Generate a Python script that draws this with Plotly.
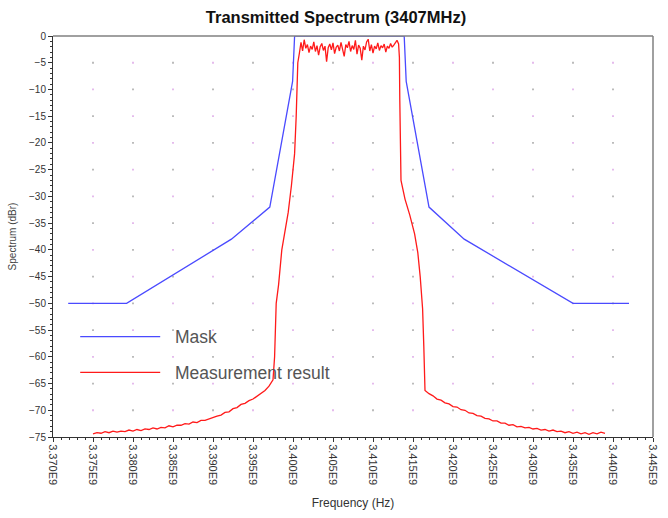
import numpy as np
import plotly.graph_objects as go

# ---- spectrum mask (frequency in MHz, level in dBr) ----
mask_freq_mhz = [3371.9, 3379.2, 3392.3, 3397.1, 3399.95, 3400.2,
                 3413.9, 3414.15, 3417.0, 3421.4, 3435.0, 3442.0]
mask_level_db = [-50, -50, -38, -32, -8.5, 0,
                 0, -8.5, -32, -38, -50, -50]

# ---- measured spectrum ----
# lower skirt, sampled every 0.5 MHz from 3375.0 MHz
skirt_lo_start_mhz = 3375.0
skirt_lo_db = [-74.4, -74.2, -74.3, -74.0, -74.2, -73.9, -74.1, -73.9, -74.0, -73.7,
               -73.9, -73.6, -73.8, -73.5, -73.6, -73.3, -73.5, -73.2, -73.3, -72.9,
               -73.1, -72.8, -72.8, -72.5, -72.6, -72.2, -72.3, -71.9, -71.9, -71.6,
               -71.4, -71.1, -70.9, -70.4, -70.3, -69.7, -69.5, -68.9, -68.7, -68.2,
               -67.9, -67.4, -66.9, -66.3, -65.5, -64.3]

# rising edge
edge_lo_freq_mhz = [3397.7, 3397.8, 3397.9, 3398.2, 3398.6, 3399.0, 3399.4,
                    3399.8, 3400.2, 3400.4, 3400.5, 3400.6, 3400.8]
edge_lo_db = [-60, -55, -50, -46.5, -40, -36.5, -33,
              -28, -22, -15, -9, -5, -3.2]

# in-band, sampled every 0.2 MHz from 3401.0 MHz
band_start_mhz = 3401.0
band_db = [-1.2, -2.8, -0.7, -2.3, -1.6, -3.1, -1.9, -2.5, -1.1, -2.9,
           -1.8, -3.6, -2.0, -1.4, -2.7, -1.9, -4.8, -2.2, -1.5, -2.6,
           -1.3, -3.3, -2.1, -1.7, -2.8, -1.2, -2.4, -3.8, -1.6, -2.2,
           -1.0, -2.9, -1.8, -2.5, -0.8, -3.4, -1.7, -2.3, -4.5, -1.9,
           -2.6, -1.1, -0.6, -2.8, -1.6, -3.2, -1.9, -2.4, -1.3, -2.7,
           -1.8, -2.2, -1.5, -3.0, -1.9, -2.3, -1.4, -2.1, -1.7, -1.2,
           -0.8, -1.5]

# falling edge
edge_hi_freq_mhz = [3413.3, 3413.35, 3413.4, 3413.5, 3414.0, 3414.6, 3415.2,
                    3415.6, 3415.9, 3416.2, 3416.35, 3416.5]
edge_hi_db = [-4, -12, -20, -27, -30.5, -33.5, -37,
              -40.5, -45, -51, -58, -66.3]

# upper skirt, sampled every 0.5 MHz from 3417.0 MHz
skirt_hi_start_mhz = 3417.0
skirt_hi_db = [-66.9, -67.3, -67.9, -68.1, -68.6, -68.8, -69.3, -69.4, -69.9, -70.0,
               -70.5, -70.6, -71.0, -71.1, -71.5, -71.6, -72.0, -72.0, -72.4, -72.4,
               -72.8, -72.7, -73.1, -73.0, -73.3, -73.2, -73.5, -73.4, -73.7, -73.6,
               -73.9, -73.7, -74.0, -73.9, -74.2, -74.0, -74.3, -74.1, -74.4, -74.2,
               -74.5, -74.2, -74.4, -74.1, -74.3]

# ---- axis ticks ----
x_tick_mhz = [3370, 3375, 3380, 3385, 3390, 3395, 3400, 3405,
              3410, 3415, 3420, 3425, 3430, 3435, 3440, 3445]
x_tick_text = ["3.370E9", "3.375E9", "3.380E9", "3.385E9", "3.390E9", "3.395E9",
               "3.400E9", "3.405E9", "3.410E9", "3.415E9", "3.420E9", "3.425E9",
               "3.430E9", "3.435E9", "3.440E9", "3.445E9"]
y_tick_db = [0, -5, -10, -15, -20, -25, -30, -35, -40, -45, -50, -55, -60, -65, -70, -75]

# assemble the measured trace (Hz)
meas_freq_mhz = np.concatenate([
    skirt_lo_start_mhz + 0.5 * np.arange(len(skirt_lo_db)),
    edge_lo_freq_mhz,
    band_start_mhz + 0.2 * np.arange(len(band_db)),
    edge_hi_freq_mhz,
    skirt_hi_start_mhz + 0.5 * np.arange(len(skirt_hi_db)),
])
meas_level_db = np.concatenate([skirt_lo_db, edge_lo_db, band_db, edge_hi_db, skirt_hi_db])
meas_freq_hz = meas_freq_mhz * 1e6
mask_freq_hz = np.array(mask_freq_mhz) * 1e6

FONT = "Liberation Sans, Arial, sans-serif"

fig = go.Figure()

# dotted grid: small marks at each interior tick intersection
gx, gy, gc = [], [], []
for i, fx in enumerate(x_tick_mhz[1:-1]):
    for j, ly in enumerate(y_tick_db[1:-1]):
        gx.append(fx * 1e6)
        gy.append(ly)
        gc.append("#b4b4b4" if (i + j) % 2 == 0 else "#e2b4ea")
fig.add_trace(go.Scatter(
    x=gx, y=gy, mode="markers",
    marker=dict(symbol="square", size=1.8, color=gc, line=dict(width=0)),
    hoverinfo="skip", showlegend=False,
))

fig.add_trace(go.Scatter(
    x=mask_freq_hz, y=mask_level_db, mode="lines", name="\u00a0\u00a0Mask",
    line=dict(color="#4a4aff", width=1.3), legendgroup="mask",
))
fig.add_trace(go.Scatter(
    x=meas_freq_hz, y=meas_level_db, mode="lines", name="\u00a0\u00a0Measurement result",
    line=dict(color="#ff1a1a", width=1.3), legendgroup="meas",
))

fig.update_layout(
    width=668, height=518,
    margin=dict(l=53, r=9, t=36, b=81),
    paper_bgcolor="white", plot_bgcolor="white",
    title=dict(
        text="<b>Transmitted Spectrum (3407MHz)</b>",
        x=336 / 668, xanchor="center", xref="container",
        y=1 - 17 / 518, yanchor="middle", yref="container",
        font=dict(family=FONT, size=16.5, color="#111111"),
    ),
    legend=dict(
        x=0.037, y=0.295, xanchor="left", yanchor="top",
        bgcolor="rgba(0,0,0,0)", itemwidth=80, tracegroupgap=10,
        font=dict(family=FONT, size=17.5, color="#555555"),
    ),
    showlegend=True,
    shapes=[
        dict(type="line", xref="paper", yref="paper", x0=0, x1=1, y0=1, y1=1,
             line=dict(color="#808080", width=1.5)),
        dict(type="line", xref="paper", yref="paper", x0=1, x1=1, y0=0, y1=1,
             line=dict(color="#808080", width=1.5)),
    ],
)

fig.update_xaxes(
    range=[x_tick_mhz[0] * 1e6, x_tick_mhz[-1] * 1e6],
    tickmode="array", tickvals=[v * 1e6 for v in x_tick_mhz], ticktext=x_tick_text,
    tickangle=90, ticks="outside", ticklen=4, tickcolor="#333333",
    minor=dict(dtick=1e6, ticks="outside", ticklen=2, tickcolor="#333333", showgrid=False),
    showgrid=False, zeroline=False, showline=True, linecolor="#333333", linewidth=1,
    tickfont=dict(family=FONT, size=11, color="#333333"),
    title=dict(text="Frequency (Hz)", standoff=14,
               font=dict(family=FONT, size=12, color="#333333")),
)
fig.update_yaxes(
    range=[-75, 0],
    tickmode="array", tickvals=y_tick_db,
    ticks="outside", ticklen=4, tickcolor="#333333",
    minor=dict(dtick=1, ticks="outside", ticklen=2, tickcolor="#333333", showgrid=False),
    showgrid=False, zeroline=False, showline=True, linecolor="#333333", linewidth=1,
    tickfont=dict(family=FONT, size=10, color="#333333"),
    title=dict(text="Spectrum (dBr)", standoff=10,
               font=dict(family=FONT, size=10, color="#444444")),
)

fig.write_html("out.html")
